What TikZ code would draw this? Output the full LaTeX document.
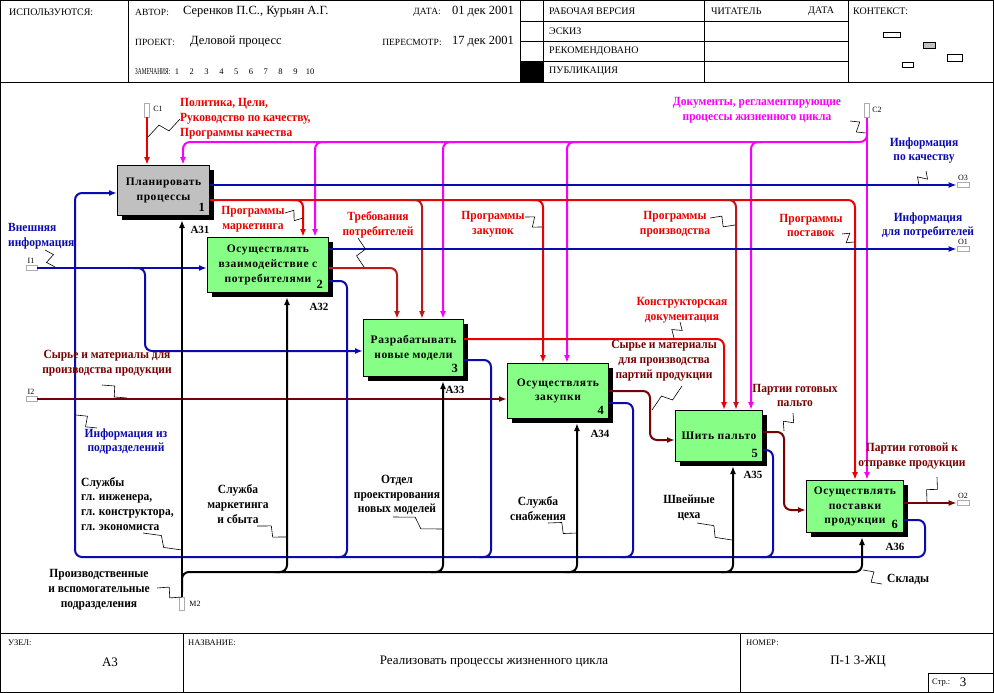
\documentclass[tikz,border=0pt]{standalone}
\usepackage{fontspec}
\setmainfont{Liberation Serif}
\newfontfamily\lblf[FakeStretch=0.92]{Liberation Serif}
\newfontfamily\boxf[LetterSpace=5]{Liberation Serif}
\newfontfamily\condf[FakeStretch=0.6]{Liberation Serif}
\usetikzlibrary{arrows.meta,calc,shadows}
\definecolor{cblue}{RGB}{10,10,175}
\definecolor{cred}{RGB}{235,0,0}
\definecolor{cbrick}{RGB}{185,25,25}
\definecolor{cmaroon}{RGB}{120,0,0}
\definecolor{cmag}{RGB}{250,0,250}
\definecolor{cgreen}{RGB}{135,255,135}
\definecolor{cgray}{RGB}{192,192,192}
\newcommand\zz[2]{\draw[line width=0.6pt] (#1) -- ($(#1)!.42!(#2)!5pt!90:(#2)$) -- ($(#1)!.58!(#2)!5pt!-90:(#2)$) -- (#2);}
\begin{document}
\begin{tikzpicture}[x=1pt,y=-1pt,
  fl/.style={line width=2pt, rounded corners=7pt},
  ar/.style={fl, -{Latex[length=8pt,width=6pt]}},
  proc/.style={draw=black, line width=1pt, fill=cgreen, anchor=north west, inner sep=0pt, align=center,
    font=\boxf\bfseries\fontsize{11.5}{14.8}\selectfont,
    drop shadow={shadow xshift=4pt, shadow yshift=-4pt, fill=black, opacity=1}},
  num/.style={font=\bfseries\fontsize{12.5}{12.5}\selectfont, inner sep=0pt, anchor=south east},
  lbl/.style={font=\lblf\bfseries\fontsize{12.5}{14.8}\selectfont, align=center, inner sep=0pt},
  aid/.style={font=\bfseries\fontsize{11}{12}\selectfont, inner sep=0pt},
  stub/.style={draw=gray!65, fill=white, line width=0.7pt, inner sep=0pt},
  port/.style={font=\fontsize{8}{8}\selectfont, inner sep=0pt},
  hd/.style={font=\fontsize{10}{11}\selectfont, inner sep=0pt},
  hs/.style={font=\fontsize{9.5}{11}\selectfont, inner sep=0pt},
  hc/.style={font=\condf\fontsize{9}{10}\selectfont, inner sep=0pt},
  hn/.style={font=\fontsize{8.5}{10}\selectfont, inner sep=0pt},
  hv/.style={font=\fontsize{12.5}{13}\selectfont, inner sep=0pt},
  ft/.style={font=\fontsize{8.5}{9}\selectfont, inner sep=0pt},
  fv/.style={font=\fontsize{13}{14}\selectfont, inner sep=0pt}
]
\useasboundingbox (0,0) rectangle (994,693);
\fill[white] (0,0) rectangle (994,693);
\draw[line width=1pt] (0.5,0.5) rectangle (993.5,692.5);
% ---------------- header
\begin{scope}[line width=0.8pt]
\draw (0,82) -- (994,82);
\draw (128,0) -- (128,82) (520,0) -- (520,82) (543,0) -- (543,82) (704,0) -- (704,82) (848,0) -- (848,82);
\draw (520,21) -- (848,21) (520,41) -- (848,41) (520,61) -- (848,61);
\fill (520,61) rectangle (543,82);
\draw[line width=0.6pt] (883,32) rectangle (900,37) (947,54) rectangle (962,61) (902,62) rectangle (913,67);
\draw[line width=0.6pt, fill=cgray] (923,42) rectangle (935,48);
\end{scope}
\node[hd, anchor=west] (hu) at (9,12) {ИСПОЛЬЗУЮТСЯ:};
\node[hs, anchor=west] (ha) at (135,12) {АВТОР:};
\node[hv, anchor=west] (hav) at (183,12) {Серенков П.С., Курьян А.Г.};
\node[hs, anchor=east] (hd1) at (441,12) {ДАТА:};
\node[hv, anchor=east] (hdv) at (514,12) {01 дек 2001};
\node[hs, anchor=west] (hp) at (135,42) {ПРОЕКТ:};
\node[hv, anchor=west] (hpv) at (190,42) {Деловой процесс};
\node[hs, anchor=east] (hr) at (442,42) {ПЕРЕСМОТР:};
\node[hv, anchor=east] (hrv) at (514,42) {17 дек 2001};
\node[hc, anchor=west] (hz) at (135,72) {ЗАМЕЧАНИЯ:};
\foreach \n [count=\i] in {1,...,10} \node[hn] (hz\i) at ({177+14.8*(\i-1)},72) {\n};
\node[hd, anchor=west] (s1) at (549,11) {РАБОЧАЯ ВЕРСИЯ};
\node[hd, anchor=west] (s2) at (549,31) {ЭСКИЗ};
\node[hd, anchor=west] (s3) at (549,51) {РЕКОМЕНДОВАНО};
\node[hd, anchor=west] (s4) at (549,71) {ПУБЛИКАЦИЯ};
\node[hd, anchor=west] (rd) at (711,11) {ЧИТАТЕЛЬ};
\node[hd, anchor=west] (rdt) at (808,11) {ДАТА};
\node[hd, anchor=west] (ctx) at (853,11) {КОНТЕКСТ:};
% ---------------- footer
\begin{scope}[line width=0.8pt]
\draw (0,633) -- (994,633);
\draw (183,633) -- (183,693) (740,633) -- (740,693);
\draw (928,673) rectangle (994,693);
\end{scope}
\node[ft, anchor=west] (fu) at (8,643) {УЗЕЛ:};
\node[fv] (fuv) at (110,662) {А3};
\node[ft, anchor=west] (fn) at (188,643) {НАЗВАНИЕ:};
\node[fv] (fnv) at (494,662) {Реализовать процессы жизненного цикла};
\node[ft, anchor=west] (fm) at (746,643) {НОМЕР:};
\node[fv] (fmv) at (858,662) {П-1 3-ЖЦ};
\node[ft, anchor=west] (fs) at (932,683) {Стр.:};
\node[fv] (fsv) at (963,682) {3};
% ---------------- boxes
\node[proc, fill=cgray, minimum width=92pt, minimum height=50pt] (b1) at (117,165) {Планировать\\процессы};
\node[proc, minimum width=121pt, minimum height=55pt] (b2) at (207,237) {Осуществлять\\взаимодействие с\\потребителями};
\node[proc, minimum width=100pt, minimum height=57pt] (b3) at (363,319) {Разрабатывать\\новые модели};
\node[proc, minimum width=101pt, minimum height=55pt] (b4) at (507,363) {Осуществлять\\закупки};
\node[proc, minimum width=87pt, minimum height=51pt] (b5) at (675,410) {Шить пальто};
\node[proc, minimum width=97pt, minimum height=52pt] (b6) at (806,480) {Осуществлять\\поставки\\продукции};
\node[num] (n1) at ($(b1.south east)+(-5,-4)$) {1};
\node[num] (n2) at ($(b2.south east)+(-6,-4)$) {2};
\node[num] (n3) at ($(b3.south east)+(-6,-4)$) {3};
\node[num] (n4) at ($(b4.south east)+(-5,-4)$) {4};
\node[num] (n5) at ($(b5.south east)+(-5,-4)$) {5};
\node[num] (n6) at ($(b6.south east)+(-6,-4)$) {6};
\node[aid] (a1) at (200,230) {A31};
\node[aid] (a2) at (319,307) {A32};
\node[aid] (a3) at (455,390) {A33};
\node[aid] (a4) at (600,434) {A34};
\node[aid] (a5) at (753,475) {A35};
\node[aid] (a6) at (895,547) {A36};
% ---------------- stubs
\node[stub, minimum width=5pt, minimum height=14pt] (c1) at (147,110) {};
\node[stub, minimum width=5pt, minimum height=14pt] (c2) at (867,110.5) {};
\node[stub, minimum width=11pt, minimum height=5pt] (i1) at (31.5,268) {};
\node[stub, minimum width=11pt, minimum height=5pt] (i2) at (31.5,399) {};
\node[stub, minimum width=12pt, minimum height=5pt] (o3) at (963,185) {};
\node[stub, minimum width=12pt, minimum height=5pt] (o1) at (963,249) {};
\node[stub, minimum width=12pt, minimum height=5pt] (o2) at (963,503) {};
\node[stub, minimum width=5pt, minimum height=13pt] (m2) at (182,604) {};
\node[port] (pc1) at (158,109) {C1};
\node[port] (pc2) at (877,110) {C2};
\node[port] (pi1) at (31,261) {I1};
\node[port] (pi2) at (31,392) {I2};
\node[port] (po3) at (963,178) {O3};
\node[port] (po1) at (963,242) {O1};
\node[port] (po2) at (963,496) {O2};
\node[port] (pm2) at (195,604) {M2};
% ---------------- controls
\draw[ar, cred] (c1.south) -- ($(b1.north west)+(30,0)$);
\draw[ar, cmag] (c2.south) -- ($(b6.north west)+(61,0)$);
\draw[ar, cmag] (867,125) -- (867,142) -- (183,142) -- ($(b1.north west)+(66,0)$);
\draw[ar, cmag] (327,142) -- (315,142) -- ($(b2.north west)+(108,0)$);
\draw[ar, cmag] (455,142) -- (443,142) -- ($(b3.north west)+(80,0)$);
\draw[ar, cmag] (579,142) -- (567,142) -- ($(b4.north west)+(60,0)$);
\draw[ar, cmag] (763,142) -- (751,142) -- ($(b5.north west)+(76,0)$);
% box 1 outputs
\draw[ar, cblue] ($(b1.north east)+(0,20)$) -- (o3.west);
\draw[ar, cred] ($(b1.north east)+(0,35)$) -- (855,200) -- ($(b6.north west)+(49,0)$);
\draw[ar, cred] (291,200) -- (303,200) -- ($(b2.north west)+(96,0)$);
\draw[ar, cbrick] (410,200) -- (422,200) -- ($(b3.north west)+(59,0)$);
\draw[ar, cred] (531,200) -- (543,200) -- ($(b4.north west)+(36,0)$);
\draw[ar, cbrick] (724,200) -- (736,200) -- ($(b5.north west)+(61,0)$);
% box 2 outputs
\draw[ar, cblue] ($(b2.north east)+(0,12)$) -- (o1.west);
\draw[ar, cbrick] ($(b2.north east)+(0,31)$) -- (397,268) -- ($(b3.north west)+(34,0)$);
% inputs
\draw[ar, cblue] (i1.east) -- ($(b2.north west)+(0,31)$);
\draw[ar, cblue] (133,268) -- (145,268) -- (145,351) -- ($(b3.north west)+(0,32)$);
\draw[ar, cmaroon] (i2.east) -- ($(b4.north west)+(0,36)$);
% box 3..6 outputs
\draw[ar, cred] ($(b3.north east)+(0,20)$) -- (724,339) -- ($(b5.north west)+(49,0)$);
\draw[ar, cmaroon] ($(b4.north east)+(0,28)$) -- (650,391) -- (650,440) -- ($(b5.north west)+(0,30)$);
\draw[ar, cmaroon] ($(b5.north east)+(0,22)$) -- (784,432) -- (784,510) -- ($(b6.north west)+(0,30)$);
\draw[ar, cmaroon] ($(b6.north east)+(0,23)$) -- (o2.west);
% blue feedback loop
\draw[ar, cblue] ($(b6.north east)+(0,40)$) -- (925,520) -- (925,557) -- (75,557) -- (75,193) -- ($(b1.north west)+(0,28)$);
\draw[fl, cblue] ($(b2.north east)+(0,44)$) -- (347,281) -- (347,557) -- (335,557);
\draw[fl, cblue] ($(b3.north east)+(0,41)$) -- (491,360) -- (491,557) -- (479,557);
\draw[fl, cblue] ($(b4.north east)+(0,40)$) -- (633,403) -- (633,557) -- (621,557);
\draw[fl, cblue] ($(b5.north east)+(0,40)$) -- (773,450) -- (773,557) -- (761,557);
% mechanisms
\draw[ar, black] (m2.north) -- ($(b1.south west)+(65,4)$);
\draw[ar, black] (182,592) -- (182,572) -- (862,572) -- ($(b6.south west)+(56,4)$);
\draw[ar, black] (275,572) -- (287,572) -- ($(b2.south west)+(80,4)$);
\draw[ar, black] (431,572) -- (443,572) -- ($(b3.south west)+(80,4)$);
\draw[ar, black] (565,572) -- (577,572) -- ($(b4.south west)+(70,4)$);
\draw[ar, black] (721,572) -- (733,572) -- ($(b5.south west)+(58,4)$);
% ---------------- labels
\node[lbl, cred, anchor=west, align=left] (l1) at (180,118.5) {Политика, Цели,\\Руководство по качеству,\\Программы качества};
\node[lbl, cmag] (l2) at (757,110) {Документы, регламентирующие\\процессы жизненного цикла};
\node[lbl, cblue] (l3) at (924,150.5) {Информация\\по качеству};
\node[lbl, cblue] (l4) at (928,225.5) {Информация\\для потребителей};
\node[lbl, cblue, anchor=west, align=left] (l5) at (8,236.5) {Внешняя\\информация};
\node[lbl, cred] (l6) at (253,219.5) {Программы\\маркетинга};
\node[lbl, cred] (l7) at (378,224.5) {Требования\\потребителей};
\node[lbl, cred] (l8) at (493,224) {Программы\\закупок};
\node[lbl, cred] (l9) at (675,224.5) {Программы\\производства};
\node[lbl, cred] (l10) at (811,225.5) {Программы\\поставок};
\node[lbl, cred] (l11) at (682,310) {Конструкторская\\документация};
\node[lbl, cmaroon] (l12) at (664,361) {Сырье и материалы\\для производства\\партий продукции};
\node[lbl, cmaroon] (l13) at (795,395.5) {Партии готовых\\пальто};
\node[lbl, cmaroon] (l14) at (912,456) {Партии готовой к\\отправке продукции};
\node[lbl, cmaroon] (l15) at (107,363.5) {Сырье и материалы для\\производства продукции};
\node[lbl, cblue] (l16) at (126,441.5) {Информация из\\подразделений};
\node[lbl, anchor=west, align=left] (l17) at (81,504) {Службы\\гл. инженера,\\гл. конструктора,\\гл. экономиста};
\node[lbl] (l18) at (238,504) {Служба\\маркетинга\\и сбыта};
\node[lbl] (l19) at (397,495) {Отдел\\проектирования\\новых моделей};
\node[lbl] (l20) at (538,508.5) {Служба\\снабжения};
\node[lbl] (l21) at (689,507.5) {Швейные\\цеха};
\node[lbl, anchor=west] (l22) at (887,579) {Склады};
\node[lbl] (l23) at (99,590) {Производственные\\и вспомогательные\\подразделения};
% ---------------- squiggles
\zz{180,119}{148,137}
\zz{850,121}{866,133}
\zz{926,171}{919,185}
\zz{45,250}{55,267}
\zz{285,213}{303,218}
\zz{358,238}{364,267}
\zz{525,217}{542,227}
\zz{710,218}{735,225}
\zz{842,234}{854,242}
\zz{680,322}{674,338}
\zz{682,386}{652,410}
\zz{793,413}{784,431}
\zz{937,477}{927,502}
\zz{102,385}{127,398}
\zz{76,415}{97,428}
\zz{143,533}{182,550}
\zz{257,526}{287,537}
\zz{393,517}{443,529}
\zz{548,523}{577,533}
\zz{697,523}{732,540}
\zz{863,570}{882,584}
\zz{157,588}{182,597}
\end{tikzpicture}
\end{document}
